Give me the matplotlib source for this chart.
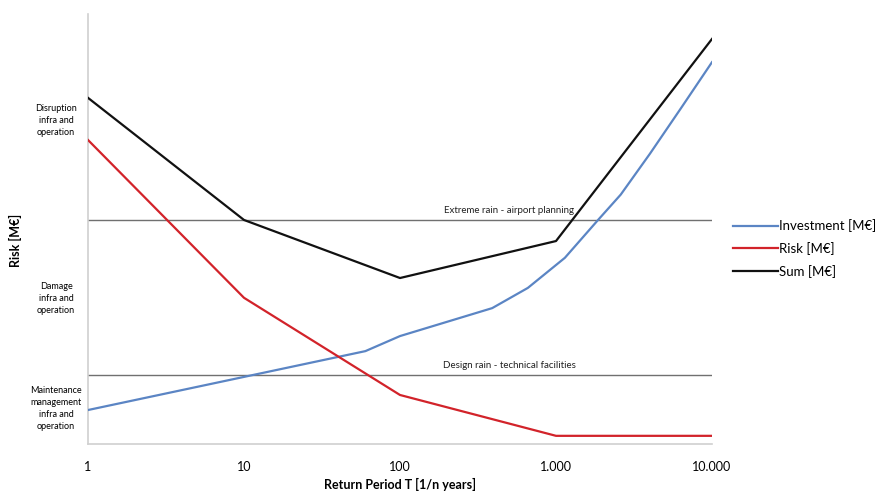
import numpy as np
from matplotlib import pyplot as plt

plt.rcParams['font.family'] = ['Lato', 'DejaVu Sans']

# return periods [years] and values (arbitrary M€ scale, 0..100)
t_sum = [1, 10, 100, 1000, 10000]
sum_vals = [80.5, 52.1, 38.6, 47.2, 94.2]

t_risk = [1, 10, 100, 1000, 10000]
risk_vals = [70.7, 34.0, 11.4, 1.9, 1.9]

t_inv = [1, 60, 100, 390, 660, 1140, 1860, 2600, 4000, 6300, 10000]
inv_vals = [7.9, 21.6, 25.1, 31.6, 36.3, 43.3, 52.1, 58.0, 67.5, 78.0, 88.8]

extreme_level = 52.1
design_level = 16.0

ytick_pos = [75.8, 34.4, 8.8]
ytick_labels = ["Disruption\ninfra and\noperation",
                "Damage\ninfra and\noperation",
                "Maintenance\nmanagement\ninfra and\noperation"]

xtick_pos = [1, 10, 100, 1000, 10000]
xtick_labels = ["1", "10", "100", "1.000", "10.000"]

fig = plt.figure(figsize=(8.94, 4.94), dpi=100)
ax = fig.add_axes([88/894, 50/494, 624/894, 430/494])

ax.axhline(extreme_level, color='#707070', lw=1.0, zorder=1)
ax.axhline(design_level, color='#707070', lw=1.0, zorder=1)
ax.text(500, extreme_level + 1.2, "Extreme rain - airport planning", fontsize=7,
        ha='center', va='bottom', color='#222222')
ax.text(500, design_level + 1.2, "Design rain - technical facilities", fontsize=7,
        ha='center', va='bottom', color='#222222')

ax.plot(t_inv, inv_vals, color='#5b85c4', lw=1.6, label="Investment [M€]", zorder=3)
ax.plot(t_risk, risk_vals, color='#d2232a', lw=1.6, label="Risk [M€]", zorder=3)
ax.plot(t_sum, sum_vals, color='#111111', lw=1.6, label="Sum [M€]", zorder=4)

ax.set_xscale('log')
ax.set_xlim(1, 10000)
ax.set_ylim(0, 100)
ax.set_xticks(xtick_pos)
ax.set_xticklabels(xtick_labels, fontsize=9)
ax.set_xticks([], minor=True)
ax.tick_params(axis='x', length=0, pad=12)

ax.set_yticks(ytick_pos)
ax.set_yticklabels(ytick_labels, fontsize=6.5, linespacing=1.45)
ax.tick_params(axis='y', length=0, pad=23)
for lab in ax.get_yticklabels():
    lab.set_ha('center')
    lab.set_multialignment('center')

for s in ['top', 'right']:
    ax.spines[s].set_visible(False)
for s in ['left', 'bottom']:
    ax.spines[s].set_color('#d0d0d0')
    ax.spines[s].set_linewidth(1.2)

ax.set_xlabel("Return Period T [1/n years]", fontsize=9, fontweight='bold', labelpad=4)
fig.text(15/894, 1 - 240/494, "Risk [M€]", rotation=90, fontsize=9,
         fontweight='bold', ha='center', va='center')

fig.legend(loc='upper left', bbox_to_anchor=(728/894, 1 - 214/494), frameon=False,
           fontsize=9.5, handlelength=3.4, handletextpad=0.05, labelspacing=0.75,
           borderaxespad=0)

fig.savefig("out.png", dpi=100)
